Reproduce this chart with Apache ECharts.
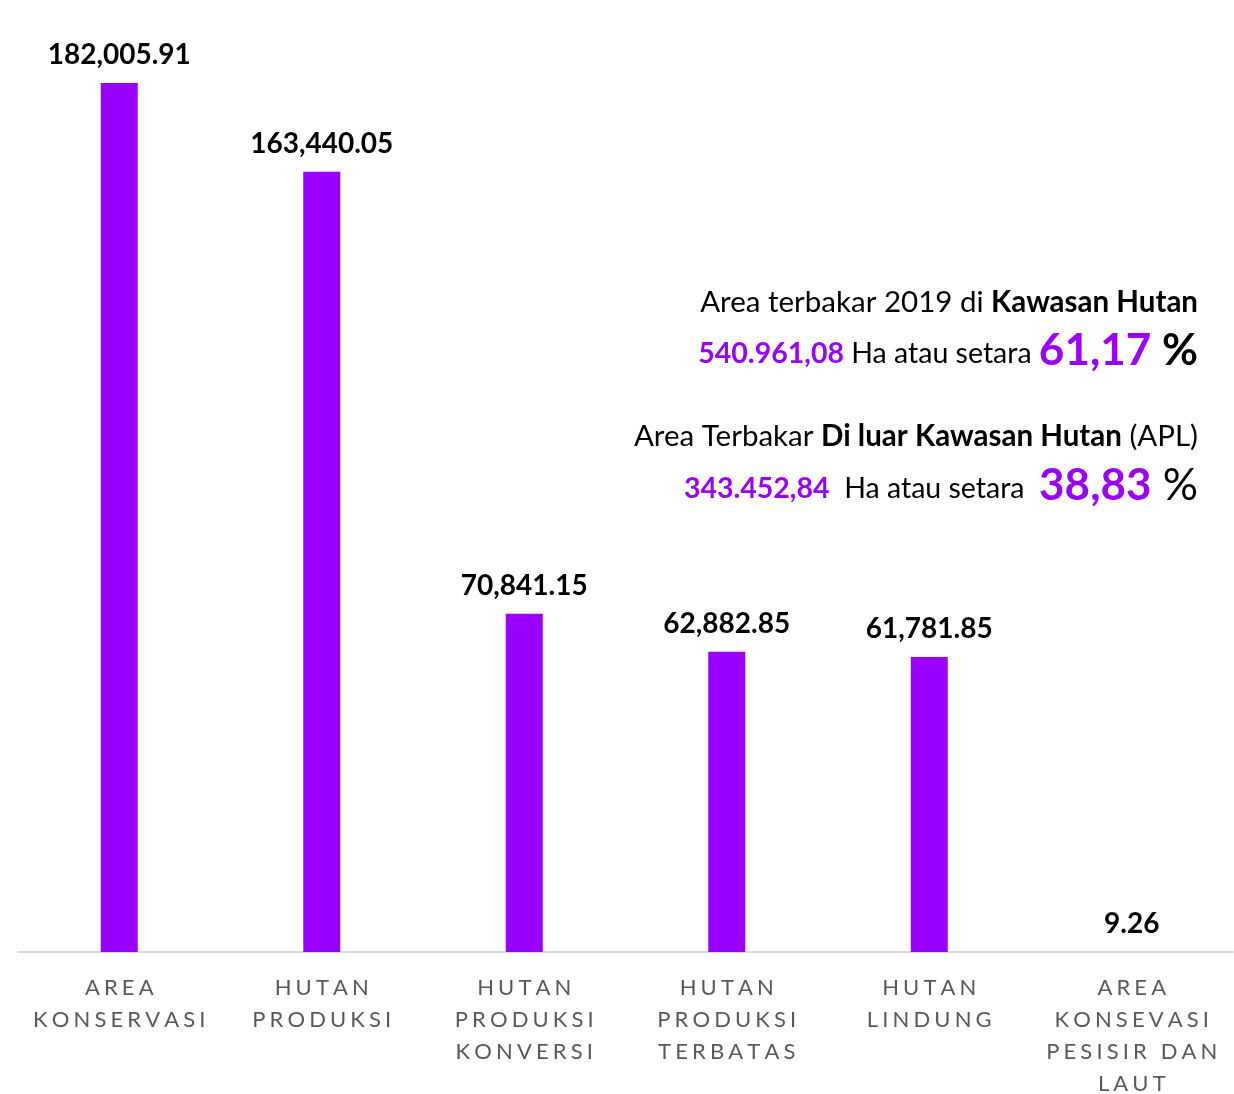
<!DOCTYPE html>
<html>
<head>
<meta charset="utf-8">
<script src="https://cdn.jsdelivr.net/npm/echarts@6/dist/echarts.min.js"></script>
<style>
html,body{margin:0;padding:0;background:#fff;overflow:hidden;}
#chart{width:1234px;height:1094px;}
</style>
</head>
<body>
<div id="chart"></div>
<script>
const categories = [
  'AREA\nKONSERVASI',
  'HUTAN\nPRODUKSI',
  'HUTAN\nPRODUKSI\nKONVERSI',
  'HUTAN\nPRODUKSI\nTERBATAS',
  'HUTAN\nLINDUNG',
  'AREA\nKONSEVASI\nPESISIR DAN\nLAUT'
];
const values = [182005.91, 163440.05, 70841.15, 62882.85, 61781.85, 9.26];
const forestArea = '540.961,08';
const forestPct = '61,17';
const aplArea = '343.452,84';
const aplPct = '38,83';

const PURPLE = '#9900FF';
const FONT = 'Lato';

function spaced(s) {
  return s.split('\n').map(l => l.split('').join('\u2009\u200A')).join('\n');
}
function fmt(v) {
  return v.toLocaleString('en-US', {minimumFractionDigits: 2, maximumFractionDigits: 2});
}

const chart = echarts.init(document.getElementById('chart'));
chart.setOption({
  animation: false,
  backgroundColor: '#fff',
  grid: {left: 18, right: 1, top: 83, bottom: 142, containLabel: false, outerBoundsMode: 'none'},
  xAxis: {
    type: 'category',
    data: categories,
    axisLine: {lineStyle: {color: '#d9d9d9', width: 2}},
    axisTick: {show: false},
    axisLabel: {
      interval: 0,
      margin: 20,
      color: '#595959',
      fontFamily: FONT,
      fontSize: 22,
      lineHeight: 32,
      formatter: v => spaced(v)
    }
  },
  yAxis: {
    type: 'value',
    min: 0,
    max: Math.max(...values),
    show: false,
    splitLine: {show: false}
  },
  series: [{
    type: 'bar',
    data: values,
    barWidth: 37,
    itemStyle: {color: PURPLE},
    label: {
      show: true,
      position: 'top',
      distance: 14,
      color: '#000',
      fontFamily: FONT,
      fontWeight: 'bold',
      fontSize: 28,
      formatter: p => fmt(p.value)
    }
  }],
  graphic: [
    {
      type: 'text', right: 36, top: 287,
      style: {
        text: '{n|Area terbakar 2019 di }{b|Kawasan Hutan}',
        rich: {
          n: {fontFamily: FONT, fontSize: 29.5, fill: '#000'},
          b: {fontFamily: FONT, fontSize: 29.5, fontWeight: 'bold', fill: '#000'}
        }
      }
    },
    {
      type: 'text', right: 36, top: 329,
      style: {
        text: '{p|' + forestArea + '}{n| Ha atau setara }{pb|' + forestPct + '}{k| %}',
        rich: {
          p: {fontFamily: FONT, fontSize: 28.5, fontWeight: 'bold', fill: PURPLE, verticalAlign: 'bottom', padding: [0,0,5,0]},
          n: {fontFamily: FONT, fontSize: 28.5, fill: '#000', verticalAlign: 'bottom', padding: [0,0,5,0]},
          pb: {fontFamily: FONT, fontSize: 44, fontWeight: 'bold', fill: PURPLE, verticalAlign: 'bottom'},
          k: {fontFamily: FONT, fontSize: 44, fontWeight: 'bold', fill: '#000', verticalAlign: 'bottom'}
        }
      }
    },
    {
      type: 'text', right: 36, top: 421,
      style: {
        text: '{n|Area Terbakar }{b|Di luar Kawasan Hutan}{n| (APL)}',
        rich: {
          n: {fontFamily: FONT, fontSize: 29.5, fill: '#000'},
          b: {fontFamily: FONT, fontSize: 29.5, fontWeight: 'bold', fill: '#000'}
        }
      }
    },
    {
      type: 'text', right: 36, top: 464,
      style: {
        text: '{p|' + aplArea + '}{n|  Ha atau setara  }{pb|' + aplPct + '}{k| %}',
        rich: {
          p: {fontFamily: FONT, fontSize: 28.5, fontWeight: 'bold', fill: PURPLE, verticalAlign: 'bottom', padding: [0,0,5,0]},
          n: {fontFamily: FONT, fontSize: 28.5, fill: '#000', verticalAlign: 'bottom', padding: [0,0,5,0]},
          pb: {fontFamily: FONT, fontSize: 44, fontWeight: 'bold', fill: PURPLE, verticalAlign: 'bottom'},
          k: {fontFamily: FONT, fontSize: 44, fill: '#000', verticalAlign: 'bottom'}
        }
      }
    }
  ]
});
</script>
</body>
</html>
